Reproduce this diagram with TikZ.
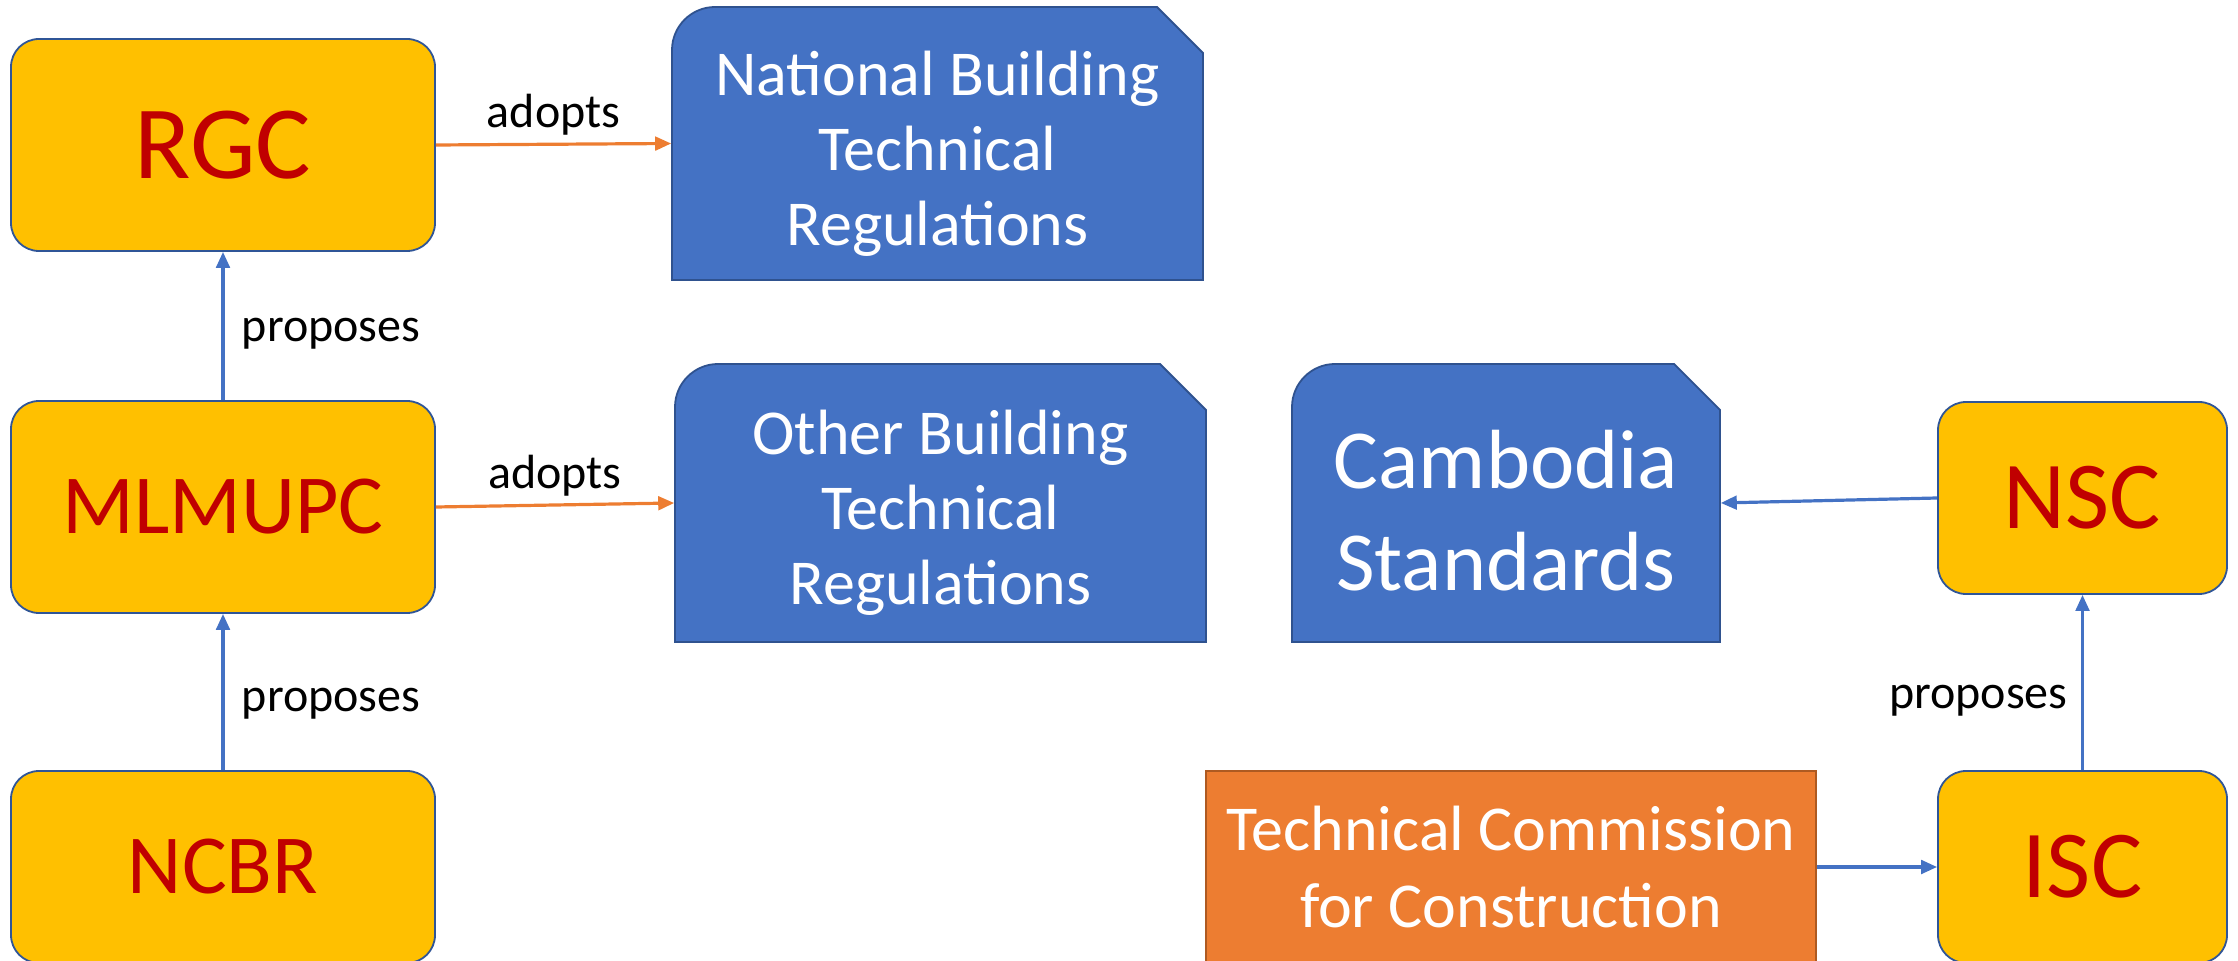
\documentclass[tikz,border=0pt]{standalone}
\usepackage{fontspec}
\setmainfont{Carlito}
\usetikzlibrary{arrows.meta}

\definecolor{orggold}{HTML}{FFC000}
\definecolor{orgred}{HTML}{C00000}
\definecolor{lineblue}{HTML}{2F5597}
\definecolor{docblue}{HTML}{4472C4}
\definecolor{docedge}{HTML}{2F528F}
\definecolor{tccorange}{HTML}{ED7D31}
\definecolor{tccedge}{HTML}{AE5A21}

\tikzset{
  orgbox/.style={draw=lineblue, line width=0.45pt, fill=orggold, rounded corners=7pt,
    text=orgred, font=\fontsize{25}{30}\selectfont, minimum width=106pt, minimum height=53pt},
  docshape/.style={draw=docedge, line width=0.45pt, fill=docblue},
  docbox/.style={inner sep=0pt, minimum height=69.5pt},
  doctext/.style={text=white, align=center, inner sep=0pt, font=\fontsize{16}{18.75}\selectfont},
  bluearrow/.style={draw=docblue, line width=0.8pt, -{Triangle[length=4pt,width=3.4pt]}},
  orangearrow/.style={draw=tccorange, line width=0.8pt, -{Triangle[length=4pt,width=3.4pt]}},
  verblabel/.style={font=\fontsize{12}{14}\selectfont, text=black}
}

\begin{document}
\begin{tikzpicture}[x=0.25pt,y=0.25pt,yscale=-1]
\useasboundingbox (0,0) rectangle (2238,961);
\clip (0,0) rectangle (2238,961);

%Shape: Rounded Rect [RGC]
\node[orgbox, font=\fontsize{26}{30}\selectfont] (rgc) at (223,145) {RGC};
%Shape: Rounded Rect [MLMUPC]
\node[orgbox, font=\fontsize{21}{26}\selectfont] (mlmupc) at (223,507) {MLMUPC};
%Shape: Rounded Rect [NCBR]
\node[orgbox, font=\fontsize{21}{26}\selectfont, minimum height=48pt] (ncbr) at (223,867) {NCBR};

%Shape: Snip and Round Single Corner Rect [national regulations]
\draw[docshape] (672,280) -- (672,50) .. controls (672,26.3) and (691.3,7) .. (715,7) -- (1157,7) -- (1203,53) -- (1203,280) -- cycle ;
\node[docbox, minimum width=132.75pt, minimum height=68.25pt] (nbtr) at (937.5,143.5) {};
\node[doctext] (nbtr-text) at ([yshift=2.5pt]nbtr.center) {National Building\\Technical\\Regulations};

%Shape: Snip and Round Single Corner Rect [other regulations]
\draw[docshape] (675,642) -- (675,407) .. controls (675,383.3) and (694.3,364) .. (718,364) -- (1160,364) -- (1206,410) -- (1206,642) -- cycle ;
\node[docbox, minimum width=132.75pt] (obtr) at (940.5,503) {};
\node[doctext] (obtr-text) at ([yshift=2.5pt]obtr.center) {Other Building\\Technical\\Regulations};

%Shape: Snip and Round Single Corner Rect [standards]
\draw[docshape] (1292,642) -- (1292,407) .. controls (1292,383.3) and (1311.3,364) .. (1335,364) -- (1674,364) -- (1720,410) -- (1720,642) -- cycle ;
\node[docbox, minimum width=107pt] (cs) at (1506,503) {};
\node[doctext, font=\fontsize{21}{25.5}\selectfont] (cs-text) at ([yshift=2pt]cs.center) {Cambodia\\Standards};

%Shape: Rounded Rect [NSC]
\node[orgbox, font=\fontsize{24}{30}\selectfont, minimum width=72.25pt, minimum height=48pt] (nsc) at (2082.5,498) {NSC};
%Shape: Rounded Rect [ISC]
\node[orgbox, font=\fontsize{24}{30}\selectfont, minimum width=72.25pt, minimum height=48pt] (isc) at (2082.5,867) {ISC};

%Shape: Rectangle [commission]
\node[draw=tccedge, line width=0.45pt, fill=tccorange, text=white, align=center,
  font=\fontsize{16}{19.25}\selectfont, minimum width=152.5pt, minimum height=48pt] (tcc) at (1511,867) {Technical Commission\\for Construction};

%Straight Lines [adopts]
\draw[orangearrow] (rgc.east) -- (nbtr.west) node[verblabel, midway, above, yshift=-1.5pt] (adopt1) {adopts};
\draw[orangearrow] (mlmupc.east) -- (obtr.west) node[verblabel, midway, above, yshift=-1.5pt] (adopt2) {adopts};

%Straight Lines [proposes]
\draw[bluearrow] (mlmupc.north) -- (rgc.south) node[verblabel, midway, right, xshift=1pt, yshift=-2pt] (prop1) {proposes};
\draw[bluearrow] (ncbr.north) -- (mlmupc.south) node[verblabel, midway, right, xshift=1pt, yshift=-3pt] (prop2) {proposes};
\draw[bluearrow] (isc.north) -- (nsc.south) node[verblabel, midway, left, yshift=-4.5pt] (prop3) {proposes};

%Straight Lines
\draw[bluearrow] (nsc.west) -- (cs.east);
\draw[bluearrow] (tcc.east) -- (isc.west);

\end{tikzpicture}
\end{document}
